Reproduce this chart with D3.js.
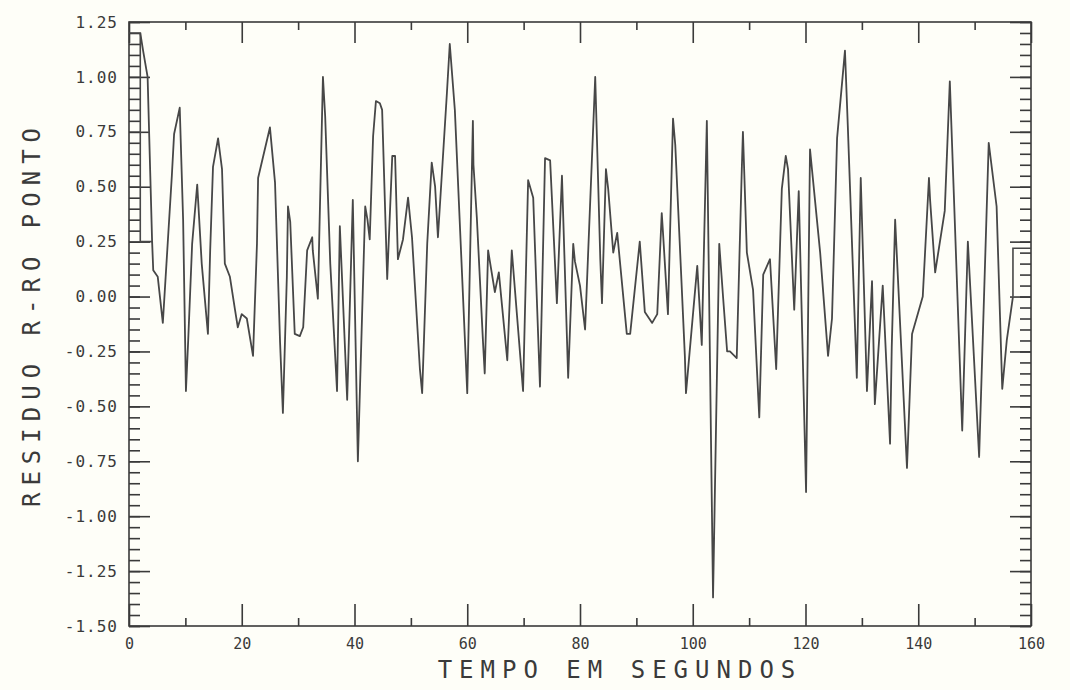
<!DOCTYPE html>
<html>
<head>
<meta charset="utf-8">
<script src="https://cdn.jsdelivr.net/npm/d3@7"></script>
<style>
  body { margin: 0; background: #fefef8; }
  svg { display: block; }
  .tick-label { font-family: 'DejaVu Sans Mono', monospace; font-size: 15px; fill: #3a3a3a; }
  .y-label { font-size: 16px; letter-spacing: 1px; }
  .title { font-family: 'DejaVu Sans Mono', monospace; font-size: 24px; fill: #3a3a3a; letter-spacing: 7px; }
</style>
</head>
<body>
<div id="chart"></div>
<script>
// Size of the page and the plot frame
const width = 1070
const height = 690
const frame = { left: 129, right: 1031, top: 22, bottom: 626 }

// time (s) and residual
const times = [
  2.0, 2.5, 3.3, 4.1, 4.3, 5.1, 6.0, 7.6, 8.0, 9.0, 9.6, 10.1, 10.5, 11.2, 12.1, 12.9,
  14.0, 14.4, 14.9, 15.8, 16.5, 17.0, 17.9, 18.8, 19.3, 20.0, 20.9, 22.0, 22.7, 22.9,
  25.0, 25.9, 26.8, 27.3, 28.0, 28.2, 28.6, 29.4, 30.3, 30.9, 31.6, 32.5, 32.6, 33.5,
  34.4, 34.8, 35.7, 36.9, 37.4, 38.7, 39.7, 40.6, 41.9, 42.3, 42.7, 43.3, 43.8, 44.5,
  44.9, 45.8, 46.7, 47.2, 47.7, 48.6, 49.5, 50.2, 51.6, 52.0, 52.9, 53.7, 54.3, 54.8,
  56.4, 56.9, 57.8, 60.0, 61.0, 61.1, 61.7, 62.8, 63.1, 63.7, 64.9, 65.6, 67.1, 67.9,
  69.9, 70.8, 71.7, 72.9, 73.8, 74.7, 75.9, 76.8, 77.9, 78.8, 79.1, 80.0, 80.9, 82.7,
  83.6, 83.9, 84.6, 85.0, 85.9, 86.6, 88.3, 88.9, 90.6, 91.5, 92.8, 93.7, 94.5, 94.7,
  95.6, 96.5, 96.9, 98.6, 98.8, 100.8, 101.6, 102.5, 103.6, 104.7, 105.4, 106.1, 106.6,
  107.8, 108.7, 108.9, 109.6, 110.7, 111.8, 112.5, 113.7, 114.8, 115.8, 116.5, 116.9,
  118.0, 118.8, 120.1, 120.8, 122.6, 124.0, 124.7, 125.6, 127.0, 127.5, 129.1, 129.8,
  130.9, 131.8, 132.3, 133.7, 135.0, 135.3, 135.9, 138.0, 138.9, 140.8, 141.9, 142.1,
  143.0, 144.7, 145.6, 147.8, 148.8, 150.8, 152.5, 153.9, 154.9, 155.7, 156.8
]
const residuals = [
  1.20, 1.12, 1.00, 0.25, 0.12, 0.09, -0.12, 0.55, 0.74, 0.86, 0.35, -0.43, -0.20, 0.24, 0.51, 0.15,
  -0.17, 0.21, 0.59, 0.72, 0.58, 0.15, 0.09, -0.06, -0.14, -0.08, -0.10, -0.27, 0.24, 0.54,
  0.77, 0.52, -0.21, -0.53, 0.09, 0.41, 0.34, -0.17, -0.18, -0.14, 0.21, 0.27, 0.21, -0.01,
  1.00, 0.82, 0.15, -0.43, 0.32, -0.47, 0.44, -0.75, 0.41, 0.35, 0.26, 0.73, 0.89, 0.88,
  0.85, 0.08, 0.64, 0.64, 0.17, 0.26, 0.45, 0.27, -0.33, -0.44, 0.24, 0.61, 0.50, 0.27,
  0.93, 1.15, 0.85, -0.44, 0.80, 0.60, 0.36, -0.21, -0.35, 0.21, 0.02, 0.11, -0.29, 0.21,
  -0.43, 0.53, 0.45, -0.41, 0.63, 0.62, -0.03, 0.55, -0.37, 0.24, 0.16, 0.05, -0.15, 1.00,
  0.17, -0.03, 0.58, 0.49, 0.20, 0.29, -0.17, -0.17, 0.25, -0.07, -0.12, -0.08, 0.38, 0.30,
  -0.08, 0.81, 0.69, -0.27, -0.44, 0.14, -0.22, 0.80, -1.37, 0.24, -0.01, -0.25, -0.25,
  -0.28, 0.58, 0.75, 0.20, 0.03, -0.55, 0.10, 0.17, -0.33, 0.49, 0.64, 0.58,
  -0.06, 0.48, -0.89, 0.67, 0.20, -0.27, -0.10, 0.72, 1.12, 0.78, -0.37, 0.54,
  -0.43, 0.07, -0.49, 0.05, -0.67, -0.23, 0.35, -0.78, -0.17, 0.00, 0.54, 0.44,
  0.11, 0.39, 0.98, -0.61, 0.25, -0.73, 0.70, 0.41, -0.42, -0.20, 0.00
]

// the plotter's pen marks at both ends of the record
const startMark = [[0, 1.20], [2.0, 1.20], [2.0, 0.25], [4.1, 0.25]]
const endMark = [[156.8, 0.00], [156.8, 0.22], [160, 0.22]]

const xTicks = [0, 20, 40, 60, 80, 100, 120, 140, 160]
const xTickLabels = ['0', '20', '40', '60', '80', '100', '120', '140', '160']
const xMinorTicks = [10, 30, 50, 70, 90, 110, 130, 150]
const yTicks = [1.25, 1.00, 0.75, 0.50, 0.25, 0.00, -0.25, -0.50, -0.75, -1.00, -1.25, -1.50]
const yTickLabels = ['1.25', '1.00', '0.75', '0.50', '0.25', '0.00', '-0.25', '-0.50', '-0.75', '-1.00', '-1.25', '-1.50']

const ink = '#3a3a3a'

const x = d3.scaleLinear().domain([0, 160]).range([frame.left, frame.right])
const y = d3.scaleLinear().domain([-1.5, 1.25]).range([frame.bottom, frame.top])

const svg = d3.select('#chart')
  .append('svg')
  .attr('width', width)
  .attr('height', height)

svg.append('rect')
  .attr('width', width)
  .attr('height', height)
  .attr('fill', '#fefef8')

// Frame
svg.append('rect')
  .attr('x', frame.left)
  .attr('y', frame.top)
  .attr('width', frame.right - frame.left)
  .attr('height', frame.bottom - frame.top)
  .attr('fill', 'none')
  .attr('stroke', ink)
  .attr('stroke-width', 1.6)

// Axes, ticks pointing inwards
function addAxis (axis, transform) {
  const g = svg.append('g').attr('transform', transform).call(axis)
  g.select('.domain').remove()
  g.selectAll('line').attr('stroke', ink).attr('stroke-width', 1.6)
  return g
}

const yMinor = d3.range(-1.5, 1.2501, 0.05)

addAxis(d3.axisBottom(x).tickValues(xMinorTicks).tickSize(-8).tickFormat(''), `translate(0,${frame.bottom})`)
addAxis(d3.axisTop(x).tickValues(xMinorTicks).tickSize(-8).tickFormat(''), `translate(0,${frame.top})`)
addAxis(d3.axisTop(x).tickValues(xTicks).tickSize(-21).tickFormat(''), `translate(0,${frame.top})`)
addAxis(d3.axisLeft(y).tickValues(yMinor).tickSize(-11).tickFormat(''), `translate(${frame.left},0)`)
addAxis(d3.axisRight(y).tickValues(yMinor).tickSize(-11).tickFormat(''), `translate(${frame.right},0)`)
addAxis(d3.axisRight(y).tickValues(yTicks).tickSize(-21).tickFormat(''), `translate(${frame.right},0)`)

const xAxis = addAxis(
  d3.axisBottom(x).tickValues(xTicks).tickSize(-22).tickPadding(12)
    .tickFormat((d, i) => xTickLabels[i]),
  `translate(0,${frame.bottom})`
)
xAxis.selectAll('text').attr('class', 'tick-label').attr('fill', null)

const yAxis = addAxis(
  d3.axisLeft(y).tickValues(yTicks).tickSize(-21).tickPadding(11)
    .tickFormat((d, i) => yTickLabels[i]),
  `translate(${frame.left},0)`
)
yAxis.selectAll('text').attr('class', 'tick-label y-label').attr('fill', null)

// Residual trace
const line = d3.line()
  .x(d => x(d[0]))
  .y(d => y(d[1]))

const series = times.map((t, i) => [t, residuals[i]])

svg.append('path')
  .datum(series)
  .attr('d', line)
  .attr('fill', 'none')
  .attr('stroke', '#474747')
  .attr('stroke-width', 1.8)
  .attr('stroke-linejoin', 'round')

svg.selectAll('path.mark')
  .data([startMark, endMark])
  .enter()
  .append('path')
  .attr('class', 'mark')
  .attr('d', line)
  .attr('fill', 'none')
  .attr('stroke', '#474747')
  .attr('stroke-width', 1.6)

// Titles
svg.append('text')
  .attr('class', 'title')
  .attr('x', 620)
  .attr('y', 678)
  .attr('text-anchor', 'middle')
  .text('TEMPO EM SEGUNDOS')

svg.append('text')
  .attr('class', 'title')
  .attr('transform', 'translate(40, 314) rotate(-90)')
  .attr('text-anchor', 'middle')
  .text('RESIDUO R-RO PONTO')
</script>
</body>
</html>
